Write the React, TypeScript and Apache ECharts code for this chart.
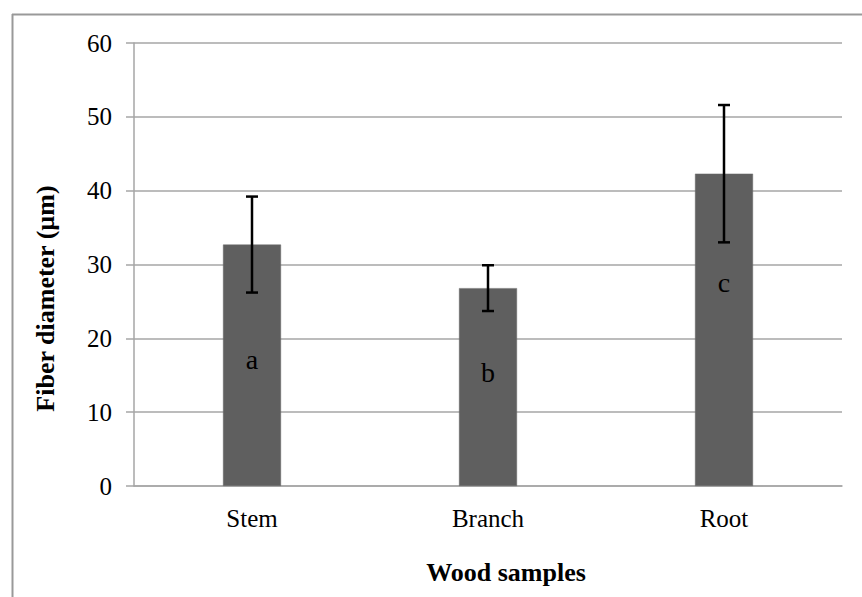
import React, { useEffect, useRef } from "react";
import * as echarts from "echarts";

const categories = ["Stem", "Branch", "Root"];
const means = [32.7, 26.8, 42.3];
const errors = [6.5, 3.1, 9.3];
const letters = ["a", "b", "c"];
const letterValues = [17.1, 15.4, 27.5];
const yTicks = { min: 0, max: 60, interval: 10 };

const FONT = "'Liberation Serif', 'Times New Roman', serif";

export default function App() {
  const ref = useRef<HTMLDivElement>(null);
  useEffect(() => {
    if (!ref.current) return;
    const chart = echarts.init(ref.current, undefined, { renderer: "svg" });
    const errData = means.map((m, i) => [i, m - errors[i], m + errors[i]]);
    const letterData = letterValues.map((v, i) => [i, v]);
    chart.setOption({
      animation: false,
      backgroundColor: "#ffffff",
      textStyle: { fontFamily: FONT },
      grid: { left: 134, right: 20, top: 43, bottom: 111 },
      graphic: [
        {
          type: "line",
          shape: { x1: 12, y1: 14.5, x2: 862, y2: 14.5 },
          style: { stroke: "#999999", lineWidth: 2 },
        },
        {
          type: "line",
          shape: { x1: 12.5, y1: 14, x2: 12.5, y2: 597 },
          style: { stroke: "#999999", lineWidth: 2 },
        },
      ],
      xAxis: {
        type: "category",
        data: categories,
        name: "Wood samples",
        nameLocation: "middle",
        nameGap: 73,
        nameTextStyle: {
          fontFamily: FONT,
          fontSize: 26,
          fontWeight: "bold",
          color: "#000",
          padding: [0, 0, 0, 36],
        },
        axisLine: { lineStyle: { color: "#a6a6a6", width: 1.5 } },
        axisTick: { show: false },
        axisLabel: { fontFamily: FONT, fontSize: 25, color: "#000", margin: 20 },
      },
      yAxis: {
        type: "value",
        min: yTicks.min,
        max: yTicks.max,
        interval: yTicks.interval,
        name: "Fiber diameter (µm)",
        nameLocation: "middle",
        nameGap: 76,
        nameTextStyle: {
          fontFamily: FONT,
          fontSize: 26,
          fontWeight: "bold",
          color: "#000",
          padding: [0, 68, 0, 0],
        },
        axisLine: { show: true, lineStyle: { color: "#a6a6a6", width: 1.5 } },
        axisTick: { show: true, length: 8, lineStyle: { color: "#a6a6a6", width: 1.5 } },
        axisLabel: { fontFamily: FONT, fontSize: 25, color: "#000", margin: 22 },
        splitLine: { lineStyle: { color: "#a6a6a6", width: 1.5 } },
      },
      series: [
        {
          type: "bar",
          data: means,
          barWidth: 58,
          itemStyle: { color: "#5f5f5f", borderColor: "#6a6a6a", borderWidth: 0.5 },
          z: 2,
        },
        {
          type: "custom",
          data: errData,
          z: 5,
          renderItem: (params: any, api: any) => {
            const x = api.value(0);
            const lo = api.coord([x, api.value(1)]);
            const hi = api.coord([x, api.value(2)]);
            const cap = 6;
            const style = { stroke: "#000", lineWidth: 2.5 };
            return {
              type: "group",
              children: [
                { type: "line", shape: { x1: hi[0], y1: hi[1], x2: lo[0], y2: lo[1] }, style },
                { type: "line", shape: { x1: hi[0] - cap, y1: hi[1], x2: hi[0] + cap, y2: hi[1] }, style },
                { type: "line", shape: { x1: lo[0] - cap, y1: lo[1], x2: lo[0] + cap, y2: lo[1] }, style },
              ],
            };
          },
        },
        {
          type: "custom",
          data: letterData,
          z: 6,
          renderItem: (params: any, api: any) => {
            const p = api.coord([api.value(0), api.value(1)]);
            return {
              type: "text",
              x: p[0],
              y: p[1],
              style: {
                text: letters[params.dataIndex],
                fontFamily: FONT,
                fontSize: 28,
                fill: "#000",
                align: "center",
                verticalAlign: "middle",
              },
            };
          },
        },
      ],
    });
    return () => chart.dispose();
  }, []);
  return (
    <div
      ref={ref}
      style={{ position: "fixed", left: 0, top: 0, width: 862, height: 597 }}
    />
  );
}
